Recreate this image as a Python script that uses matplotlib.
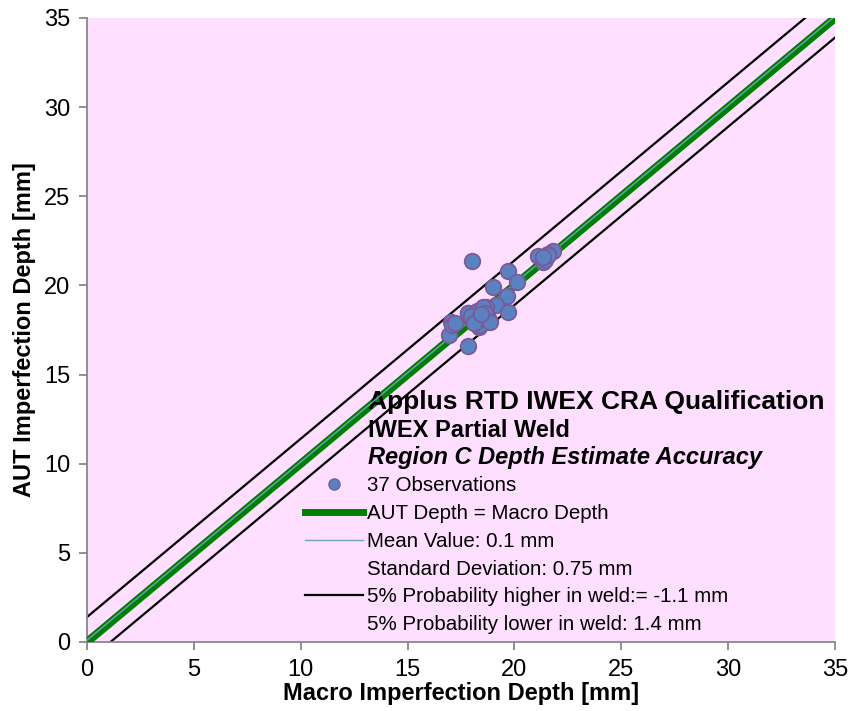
import numpy as np
from matplotlib import pyplot as plt
from matplotlib.lines import Line2D

plt.rcParams['font.family'] = ['Liberation Sans', 'DejaVu Sans']

# macro (x) vs AUT (y) depth, mm -- 37 observations
macro = [18.03, 19.72, 20.14, 19.01, 19.64, 19.14, 19.72, 18.66, 18.24, 17.81,
         17.92, 18.70, 18.36, 17.02, 16.94, 17.84, 21.12, 21.82, 21.59, 21.32,
         21.43, 21.59, 21.35, 17.10, 17.84, 18.24, 18.54, 18.39, 18.78, 18.08,
         17.97, 18.62, 18.30, 18.86, 17.22, 18.11, 18.44]
aut = [21.39, 20.83, 20.21, 19.93, 19.42, 18.90, 18.52, 18.77, 18.56, 18.47,
       18.15, 18.21, 17.69, 17.93, 17.22, 16.62, 21.65, 21.95, 21.76, 21.33,
       21.42, 21.71, 21.61, 17.80, 18.44, 18.53, 18.81, 17.78, 18.16, 18.06,
       18.29, 18.45, 18.06, 17.95, 17.88, 17.89, 18.40]

mean_offset = 0.1
upper_offset = 1.4
lower_offset = -1.1
line_x = [0, 35]

title_lines = ["Applus RTD IWEX CRA Qualification",
               "IWEX Partial Weld",
               "Region C Depth Estimate Accuracy"]
legend_labels = ["37 Observations",
                 "AUT Depth = Macro Depth",
                 "Mean Value: 0.1 mm",
                 "Standard Deviation: 0.75 mm",
                 "5% Probability higher in weld:= -1.1 mm",
                 "5% Probability lower in weld: 1.4 mm"]

fig = plt.figure(figsize=(8.51, 7.11), dpi=100)
ax = fig.add_axes([87 / 851, 69 / 711, 748 / 851, 624 / 711])
ax.set_facecolor('#FFDFFF')

lx = np.array(line_x, dtype=float)
ax.plot(lx, lx + upper_offset, color='black', lw=1.6, zorder=2)
ax.plot(lx, lx + lower_offset, color='black', lw=1.6, zorder=2)
ax.plot(lx, lx, color='#008000', lw=6, solid_capstyle='butt', zorder=3)
ax.plot(lx, lx + mean_offset, color='#6FA0C8', lw=1.0, zorder=4)
ax.scatter(macro, aut, s=125, color='#5A82C0', edgecolor='#7A5A9A',
           linewidth=1.3, zorder=5)

ax.set_xlim(0, 35)
ax.set_ylim(0, 35)
ax.set_xticks(range(0, 36, 5))
ax.set_yticks(range(0, 36, 5))
for s in ['top', 'right']:
    ax.spines[s].set_visible(False)
for s in ['left', 'bottom']:
    ax.spines[s].set_color('#888888')
    ax.spines[s].set_linewidth(1.3)
ax.tick_params(colors='#888888', labelcolor='black', labelsize=17,
               length=6, width=1.3, pad=6)
ax.set_xlabel('Macro Imperfection Depth [mm]', fontsize=17, fontweight='bold',
              labelpad=1)
ax.set_ylabel('AUT Imperfection Depth [mm]', fontsize=17, fontweight='bold',
              labelpad=6)

# legend block
ax.text(0.3757, 0.3846, title_lines[0], transform=ax.transAxes, fontsize=19,
        fontweight='bold', va='center')
ax.text(0.3757, 0.3397, title_lines[1], transform=ax.transAxes, fontsize=17,
        fontweight='bold', va='center')
ax.text(0.3757, 0.2949, title_lines[2], transform=ax.transAxes, fontsize=17,
        fontweight='bold', style='italic', va='center')

handles = [
    Line2D([], [], ls='none', marker='o', ms=8, mfc='#5A82C0', mec='#7A5A9A'),
    Line2D([], [], color='#008000', lw=5),
    Line2D([], [], color='#6FA0C8', lw=1.0),
    Line2D([], [], ls='none'),
    Line2D([], [], color='black', lw=1.6),
    Line2D([], [], ls='none'),
]
ax.legend(handles, legend_labels, loc='upper left',
          bbox_to_anchor=(0.281, 0.279), frameon=False, fontsize=14.8,
          handlelength=2.8, handletextpad=0.2, labelspacing=0.43,
          borderaxespad=0)

fig.savefig('out.png', dpi=100)
